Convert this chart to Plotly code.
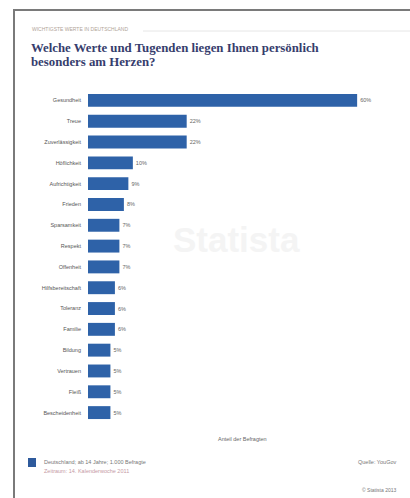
import plotly.graph_objects as go

categories = ["Gesundheit", "Treue", "Zuverlässigkeit", "Höflichkeit", "Aufrichtigkeit",
              "Frieden", "Sparsamkeit", "Respekt", "Offenheit", "Hilfsbereitschaft",
              "Toleranz", "Familie", "Bildung", "Vertrauen", "Fleiß", "Bescheidenheit"]
values = [60, 22, 22, 10, 9, 8, 7, 7, 7, 6, 6, 6, 5, 5, 5, 5]
value_labels = [f"{v}%" for v in values]

W, H = 410, 498
L, R, T, B = 88, 8, 90, 75
PW, PH = W - L - R, H - T - B


def px_x(x):
    return (x - L) / PW


def px_y(y):
    return (H - B - y) / PH


BAR = "#2e62a8"
SANS = "Liberation Sans, Arial, sans-serif"
SERIF = "Liberation Serif, Times New Roman, serif"

fig = go.Figure(go.Bar(
    orientation="h", x=values, y=categories, width=0.62,
    marker=dict(color=BAR, line=dict(width=0)),
    text=value_labels, textposition="outside", cliponaxis=False,
    textfont=dict(size=5.5, color="#666", family=SANS),
))

fig.update_layout(
    width=W, height=H, margin=dict(l=L, r=R, t=T, b=B),
    paper_bgcolor="white", plot_bgcolor="white", showlegend=False,
    font=dict(family=SANS),
    xaxis=dict(visible=False, range=[0, 70]),
    yaxis=dict(autorange="reversed", categoryorder="array", categoryarray=categories,
               tickfont=dict(size=5.5, color="#555"), ticks="", showgrid=False,
               showline=False, ticklabelstandoff=6),
)


def note(x, y, text, anchor="left", size=5.5, color="#777", family=SANS, **kw):
    return dict(x=px_x(x), y=px_y(y), xref="paper", yref="paper", text=text,
                showarrow=False, xanchor=anchor, yanchor="middle",
                font=dict(size=size, color=color, family=family), **kw)


ann = [
    note(236, 240, "<b>Statista</b>", anchor="center", size=35, color="#f4f4f4"),
    note(30, 29, "WICHTIGSTE WERTE IN DEUTSCHLAND", size=5, color="#b0a498"),
    note(29, 48, "<b>Welche Werte und Tugenden liegen Ihnen persönlich</b>",
         size=12.8, color="#363d6d", family=SERIF),
    note(29, 62, "<b>besonders am Herzen?</b>",
         size=12.8, color="#363d6d", family=SERIF),
    note(242, 439, "Anteil der Befragten", anchor="center", color="#666"),
    note(42, 462, "Deutschland; ab 14 Jahre; 1.000 Befragte"),
    note(42, 471, "Zeitraum: 14. Kalenderwoche 2011", color="#c59aa4"),
    note(398, 462, "Quelle: YouGov", anchor="right"),
    note(398, 490, "© Statista 2013", anchor="right", size=5),
]
fig.update_layout(annotations=ann)

shapes = [
    dict(type="rect", xref="paper", yref="paper", x0=px_x(14), y0=px_y(10), x1=px_x(440),
         y1=px_y(540), line=dict(color="#7a7a7a", width=2), fillcolor="rgba(0,0,0,0)", layer="above"),
    dict(type="line", xref="paper", yref="paper", x0=px_x(143), y0=px_y(31), x1=px_x(410),
         y1=px_y(31), line=dict(color="#e6e6e6", width=1)),
    dict(type="rect", xref="paper", yref="paper", x0=px_x(28), y0=px_y(458), x1=px_x(36),
         y1=px_y(467), line=dict(width=0), fillcolor="#2e5a9c"),
]
fig.update_layout(shapes=shapes)

fig.write_html("out.html")
